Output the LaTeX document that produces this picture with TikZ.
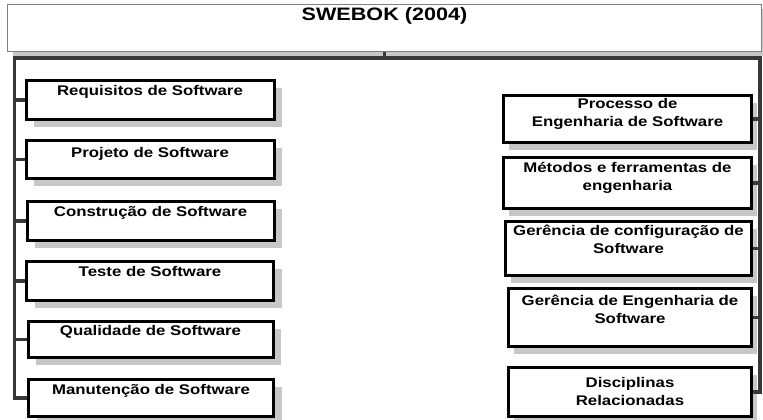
\documentclass[tikz,border=0pt]{standalone}
\usepackage{fontspec}
\newfontfamily\boxfont{Liberation Sans}[FakeStretch=1.2]
\usetikzlibrary{positioning,shadows}

\tikzset{
    sombra/.style={drop shadow={shadow xshift=#1,shadow yshift=-7pt,fill=black!22,opacity=1}},
    caixa/.style={draw,line width=3pt,fill=white,inner sep=0pt},
    texto/.style={font=\boxfont\bfseries\fontsize{14}{18}\selectfont,align=center,inner sep=0pt},
    ligacao/.style={draw=black!78,line width=3.4pt}
}

\begin{document}
\begin{tikzpicture}[x=1pt,y=1pt]
        \useasboundingbox (0,0) rectangle (763,-420);

        \node[draw=black!50,line width=1.4pt,fill=white,inner sep=0pt,minimum width=754pt,minimum height=47pt,
            drop shadow={shadow xshift=5pt,shadow yshift=-5pt,fill=black!22,opacity=1}] (top) at (384.5,-28) {};
        \node[texto,font=\boxfont\bfseries\fontsize{18}{20}\selectfont,below=3pt of top.north] (titulo) {SWEBOK (2004)};

        \node[caixa,sombra=8pt,minimum width=248pt,minimum height=39pt] (req) at (150,-100) {};
        \node[caixa,sombra=8pt,minimum width=248pt,minimum height=38pt] (proj) at (150,-159.5) {};
        \node[caixa,sombra=8pt,minimum width=247pt,minimum height=39pt] (cons) at (150.5,-221) {};
        \node[caixa,sombra=8pt,minimum width=247pt,minimum height=39pt] (teste) at (150,-281) {};
        \node[caixa,sombra=8pt,minimum width=245pt,minimum height=36pt] (qual) at (150.5,-339.5) {};
        \node[caixa,sombra=8pt,minimum width=245pt,minimum height=37pt] (manut) at (151,-398) {};

        \node[texto,below=6pt of req.north] (reqt) {Requisitos de Software};
        \node[texto,below=8pt of proj.north] (projt) {Projeto de Software};
        \node[texto,below=6pt of cons.north] (const) {Construção de Software};
        \node[texto,below=6pt of teste.north] (testet) {Teste de Software};
        \node[texto,below=5pt of qual.north] (qualt) {Qualidade de Software};
        \node[texto,below=6pt of manut.north] (manutt) {Manutenção de Software};

        \node[caixa,sombra=5pt,minimum width=248pt,minimum height=47pt] (proc) at (627.5,-119) {};
        \node[caixa,sombra=5pt,minimum width=248pt,minimum height=51pt] (met) at (627.5,-183) {};
        \node[caixa,sombra=5pt,minimum width=246pt,minimum height=54pt] (gconf) at (628.5,-248.5) {};
        \node[caixa,sombra=5pt,minimum width=243pt,minimum height=58pt] (geng) at (630,-317.5) {};
        \node[caixa,sombra=5pt,minimum width=243pt,minimum height=49pt] (disc) at (630,-392) {};

        \node[texto,below=4pt of proc.north] (proct) {Processo de\\Engenharia de Software};
        \node[texto,below=6pt of met.north] (mett) {Métodos e ferramentas de\\engenharia};
        \node[texto,below=5pt of gconf.north] (gconft) {Gerência de configuração de\\Software};
        \node[texto,below=8pt of geng.north] (gengt) {Gerência de Engenharia de\\Software};
        \node[texto,below=11pt of disc.north] (disct) {Disciplinas\\Relacionadas};

        \coordinate (barL) at (14.5,-58);
        \coordinate (barR) at (760,-58);
        \draw[ligacao] (top.south) -- (top.south |- barL);
        \draw[ligacao] (manut.west) -| (barL) -- (barR) |- (disc.east);
        \foreach \n in {req,proj,cons,teste,qual}
            \draw[ligacao] (barL |- \n.west) -- (\n.west);
        \foreach \n in {proc,met,gconf,geng}
            \draw[ligacao] (barR |- \n.east) -- (\n.east);

    \end{tikzpicture}
\end{document}
